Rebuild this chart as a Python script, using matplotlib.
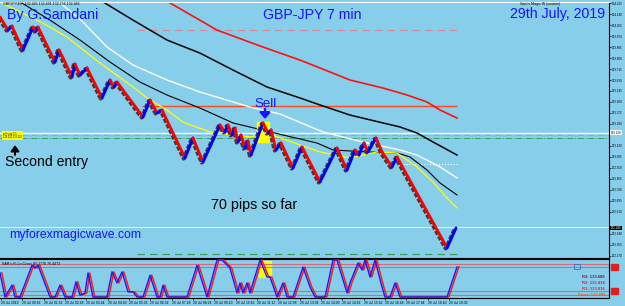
import matplotlib
matplotlib.use('Agg')
import matplotlib.pyplot as plt
from matplotlib import transforms
from matplotlib.patches import Rectangle

plt.rcParams['font.family'] = ['Liberation Sans', 'DejaVu Sans']

BG = '#87ceeb'

# renko-style price path, pivots (bar position, price)
price_x = [0, 8, 12, 15, 23, 33, 36, 38, 55, 59, 63, 72, 75, 80, 87, 102, 110, 114, 117,
           143, 150, 157, 162, 185, 193, 203, 220, 225, 228, 232, 235, 238, 241, 245, 248,
           251, 263, 268, 271, 276, 281, 293, 302, 320, 337, 347, 355, 359, 364, 368, 376,
           382, 392, 397, 447, 456]
price_y = [134.117, 134.016, 134.047, 133.993, 133.862, 134.039, 134.008, 134.039, 133.769,
           133.862, 133.800, 133.653, 133.753, 133.668, 133.723, 133.491, 133.630, 133.576,
           133.614, 133.344, 133.475, 133.375, 133.398, 133.027, 133.182, 132.996, 133.282,
           133.228, 133.282, 133.205, 133.259, 133.151, 133.205, 133.104, 133.159, 133.050,
           133.298, 133.220, 133.244, 133.089, 133.143, 132.950, 133.112, 132.842, 133.104,
           132.934, 133.089, 133.050, 133.143, 133.074, 133.182, 133.074, 132.958, 133.035,
           132.332, 132.486]

# moving averages
ma_red_x = [140, 165, 217, 260, 300, 320, 350, 383, 407, 427, 440, 457]
ma_red_y = [134.364, 134.248, 134.016, 133.893, 133.784, 133.723, 133.630, 133.568,
            133.514, 133.460, 133.398, 133.336]
ma_black1_x = [90, 100, 133, 167, 200, 233, 267, 300, 320, 350, 383, 400, 417, 433, 457]
ma_black1_y = [134.294, 134.248, 134.093, 133.939, 133.838, 133.707, 133.576, 133.491,
               133.437, 133.359, 133.298, 133.267, 133.220, 133.151, 133.050]
ma_white_x = [50, 57, 83, 107, 133, 167, 200, 250, 280, 323, 367, 400, 417, 440, 457]
ma_white_y = [134.294, 134.248, 134.078, 133.885, 133.746, 133.630, 133.537, 133.421,
              133.367, 133.228, 133.143, 133.089, 133.050, 132.958, 132.873]
ma_yellow_x = [0, 20, 43, 67, 100, 133, 150, 167, 183, 210, 250, 267, 300, 320, 350, 377,
               397, 417, 433, 447, 457]
ma_yellow_y = [134.233, 134.155, 134.070, 133.962, 133.761, 133.576, 133.475, 133.398,
               133.305, 133.228, 133.189, 133.220, 133.128, 133.074, 133.027, 133.074,
               133.066, 132.958, 132.842, 132.718, 132.641]
ma_black2_x = [17, 50, 80, 110, 140, 167, 200, 233, 283, 317, 333, 367, 397, 410, 427, 440, 457]
ma_black2_y = [134.248, 134.093, 133.939, 133.769, 133.614, 133.514, 133.413, 133.298,
               133.205, 133.143, 133.089, 133.074, 133.066, 133.035, 132.934, 132.834, 132.741]

# oscillator (SAR's Hi-Lo Cross)
osc_x = [0, 5, 12, 15, 20, 32, 35, 38, 50, 55, 60, 65, 72, 76, 80, 85, 88, 93, 107, 112,
         117, 122, 128, 133, 137, 143, 150, 157, 160, 163, 167, 187, 197, 207, 217, 222,
         230, 237, 240, 243, 247, 250, 260, 267, 270, 277, 283, 287, 293, 303, 310, 315,
         325, 333, 337, 347, 350, 358, 362, 365, 370, 375, 382, 385, 390, 395, 400, 447, 457]
osc_v = [65, 0, 32, 0, 0, 86, 78, 86, 0, 0, 32, 0, 0, 41, 5, 11, 65, 0, 0, 68,
         38, 68, 14, 14, 0, 0, 59, 0, 0, 32, 0, 0, 86, 0, 100, 100,
         78, 11, 38, 11, 38, 11, 100, 54, 54, 0, 38, 0, 0, 81, 27, 0,
         0, 100, 100, 11, 38, 92, 73, 100, 54, 100, 27, 0, 0, 38, 0, 0, 81]
osc_levels = [90, 80, 16, 5]

price_ticks = [134.225, 134.140, 134.055, 133.970, 133.885, 133.800, 133.715, 133.630,
               133.545, 133.460, 133.375, 133.290, 133.120, 133.035, 132.950, 132.865,
               132.780, 132.695, 132.610, 132.440, 132.355, 132.270]
time_pos = [1, 22, 44, 65, 86, 108, 129, 150, 172, 193, 214, 236, 257, 278, 300, 321,
            342, 364, 385, 406, 428, 449]
time_labels = ['29 Jul 2019', '29 Jul 00:56', '29 Jul 01:52', '29 Jul 02:48', '29 Jul 03:44',
               '29 Jul 04:40', '29 Jul 05:36', '29 Jul 06:32', '29 Jul 07:28', '29 Jul 08:24',
               '29 Jul 09:20', '29 Jul 10:16', '29 Jul 11:12', '29 Jul 12:08', '29 Jul 13:04',
               '29 Jul 14:00', '29 Jul 14:56', '29 Jul 15:52', '29 Jul 16:48', '29 Jul 17:44',
               '29 Jul 18:40', '29 Jul 19:36']

W, H = 625, 306
fig = plt.figure(figsize=(W / 100, H / 100), dpi=100, facecolor=BG)
ax = fig.add_axes([0, 48 / H, 609 / W, 256 / H], facecolor=BG)
ax2 = fig.add_axes([0, 8 / H, 609 / W, 39 / H], facecolor=BG)

ax.set_xlim(0, 609)
ax.set_ylim(132.254, 134.233)
ax2.set_xlim(0, 609)
ax2.set_ylim(-2.7, 102.7)

# horizontal levels
ax.hlines(134.016, 137, 457, color='#d98a9a', lw=0.9, ls=(0, (6, 4)), zorder=2)
ax.hlines(133.429, 142, 457, color='#ff4a1a', lw=1.0, zorder=2)
ax.axhline(133.222, color='white', lw=1.0, zorder=2)
ax.axhline(133.205, color='#d98a9a', lw=0.7, ls='-.', zorder=2)
ax.axhline(133.182, color='#3aa060', lw=0.7, ls='-.', zorder=2)
ax.hlines(132.981, 403, 457, color='white', lw=0.8, ls=':', zorder=2)
ax.axhline(132.494, color='#ffff66', lw=0.7, zorder=2)
ax.hlines(132.285, 137, 457, color='#3aa060', lw=0.9, ls=(0, (6, 4)), zorder=2)

# moving averages
ax.plot(ma_red_x, ma_red_y, color='#ff1010', lw=1.2, zorder=3)
ax.plot(ma_black1_x, ma_black1_y, color='black', lw=1.1, zorder=3)
ax.plot(ma_white_x, ma_white_y, color='white', lw=1.0, zorder=3)
ax.plot(ma_black2_x, ma_black2_y, color='black', lw=0.8, zorder=3)
ax.plot(ma_yellow_x, ma_yellow_y, color='#ffff00', lw=0.9, zorder=3)

# sell highlight box
ax.add_patch(Rectangle((257, 133.151), 12, 0.154, color='#ffff00', zorder=4))

# price path with brick shadow
shadow = transforms.offset_copy(ax.transData, fig=fig, x=-1.4, y=-0.8, units='dots')
ax.plot(price_x, price_y, color='#3c3c3c', lw=2.6, ls=(0, (1.2, 0.5)), transform=shadow,
        zorder=5)
for i in range(len(price_x) - 1):
    col = '#ff0000' if price_y[i + 1] < price_y[i] else '#0000ff'
    ax.plot(price_x[i:i + 2], price_y[i:i + 2], color=col, lw=2.1,
            solid_capstyle='round', zorder=6)

# right price axis
ax.yaxis.tick_right()
ax.set_yticks(price_ticks)
ax.set_yticklabels([f'{t:.3f}' for t in price_ticks])
ax.tick_params(axis='y', labelsize=2.2, length=1.5, width=0.5, pad=0.8, colors='black')
ax.set_xticks([])
for s in ['left', 'top']:
    ax.spines[s].set_visible(False)
ax.spines['right'].set_linewidth(0.8)
ax.spines['bottom'].set_linewidth(0.8)
yx = transforms.blended_transform_factory(ax.transAxes, ax.transData)
ax.text(1.003, 133.222, '133.220', transform=yx, fontsize=2.2, va='center', color='black',
        bbox=dict(boxstyle='square,pad=0.15', fc='white', ec='none'))
ax.text(1.003, 132.486, '132.486', transform=yx, fontsize=2.2, va='center', color='white',
        bbox=dict(boxstyle='square,pad=0.15', fc='black', ec='none'))

# top info strip
fig.text(3 / W, 1 - 4 / H, 'GBPJPY,M7  132.466 132.491 132.456 132.486', fontsize=2.6,
         va='center', color='black')
fig.text(560 / W, 1 - 4 / H, "Sam's Magic W (custom)", fontsize=2.6, va='center',
         ha='right', color='black')
fig.add_artist(plt.Line2D([0, 609 / W], [1 - 1.5 / H] * 2, color='white', lw=0.8))

# left yellow order label
fig.text(3 / W, 1 - 135.5 / H, 'sell stop 0.1\n133.220 133.205', fontsize=1.8, va='center',
         color='black', linespacing=1.0,
         bbox=dict(boxstyle='square,pad=0.3', fc='#ffff00', ec='none'))

# oscillator panel
ax2.add_patch(Rectangle((259, 54), 12, 43, color='#ffff00', zorder=1))
for lv in osc_levels:
    ax2.axhline(lv, color='#d96a7a', lw=0.8, zorder=2)
red_off = transforms.offset_copy(ax2.transData, fig=fig, x=1.8, y=0, units='dots')
ax2.plot(osc_x, osc_v, color='#ff1a1a', lw=1.1, transform=red_off, zorder=3)
ax2.plot(osc_x, osc_v, color='#1a1aff', lw=1.0, zorder=4)
ax2.text(0.003, 0.93, "SAR's Hi-Lo Cross 85.2776 76.4473", transform=ax2.transAxes,
         fontsize=2.6, va='top', color='black')
ax2.set_xticks(time_pos)
ax2.set_xticklabels(time_labels, ha='left')
ax2.tick_params(axis='x', labelsize=2.4, length=1.5, width=0.5, pad=0.8, direction='out')
ax2.set_yticks([])
ax2.spines['left'].set_visible(False)
for s in ['top', 'right', 'bottom']:
    ax2.spines[s].set_linewidth(0.8)

# pivot levels text
piv = [('R3: 133.689', '#8b1020', 277), ('R2: 133.418', '#c0206a', 283),
       ('R1: 133.016', '#e0203c', 289), ('Pivot: 132.898', '#ff5a00', 295.5)]
for txt, c, yy in piv:
    fig.text(605 / W, 1 - yy / H, txt, fontsize=3.0, ha='right', va='center', color=c,
             fontweight='bold')
for yy in (264, 288):
    fig.add_artist(Rectangle((611 / W, 1 - (yy + 6) / H), 7 / W, 6 / H, color='#e02020'))
fig.add_artist(Rectangle((574 / W, 1 - 269 / H), 6 / W, 5 / H, fill=False, ec='#4070c0',
                         lw=0.6))


def fx(x):
    return x / W


def fy(y):
    return 1 - y / H


blue = '#1414ff'
fig.text(fx(7), fy(19), 'By G.Samdani', fontsize=10.2, color=blue, va='baseline')
fig.text(fx(263), fy(19), 'GBP-JPY 7 min', fontsize=10.2, color=blue, va='baseline')
fig.text(fx(605), fy(18), '29th July, 2019', fontsize=10.2, color=blue, va='baseline',
         ha='right')
fig.text(fx(266), fy(107), 'Sell', fontsize=9.5, color=blue, va='baseline', ha='center')
fig.text(fx(5), fy(166), 'Second entry', fontsize=10.1, color='black', va='baseline')
fig.text(fx(211), fy(209), '70 pips so far', fontsize=10.3, color='black', va='baseline')
fig.text(fx(9), fy(238), 'myforexmagicwave.com', fontsize=8.8, color=blue, va='baseline')

# arrows
ax.annotate('', xy=(fx(265), fy(119)), xytext=(fx(265), fy(109)), xycoords='figure fraction',
            arrowprops=dict(arrowstyle='-|>,head_width=0.3,head_length=0.35', color=blue,
                            lw=1.8, shrinkA=0, shrinkB=0))
ax.annotate('', xy=(fx(15), fy(145)), xytext=(fx(15), fy(155)), xycoords='figure fraction',
            arrowprops=dict(arrowstyle='-|>,head_width=0.25,head_length=0.35', color='black',
                            lw=1.4, shrinkA=0, shrinkB=0))

fig.savefig('out.png', dpi=100, facecolor=BG)
